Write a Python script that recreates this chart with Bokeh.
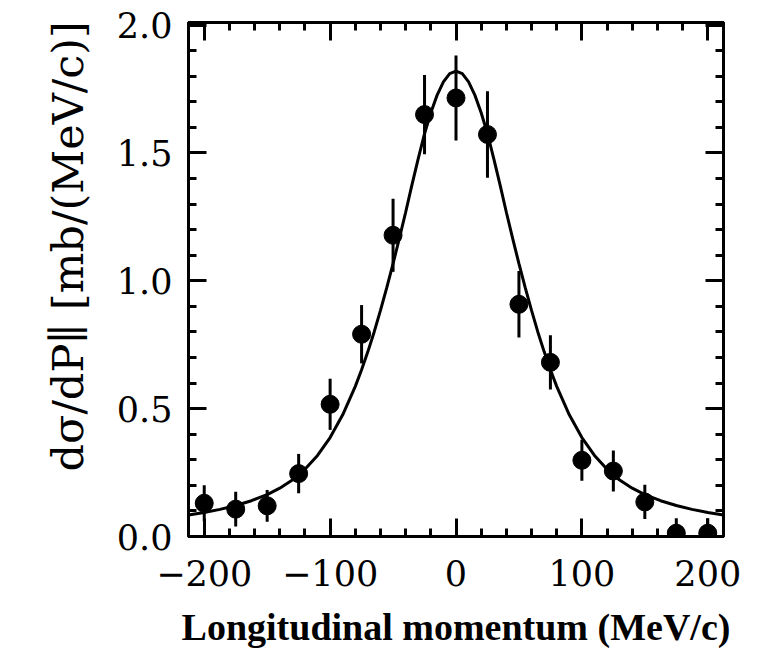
from bokeh.plotting import figure
from bokeh.models import FixedTicker, LinearAxis, Range1d, Title, ColumnDataSource
from bokeh.embed import file_html
from bokeh.resources import INLINE

# ---- data ----
momentum = [-200, -175, -150, -125, -100, -75, -50, -25, 0, 25, 50, 75, 100, 125, 150, 175, 200]
xsec = [0.130, 0.107, 0.120, 0.246, 0.517, 0.791, 1.178, 1.650, 1.715, 1.572, 0.908, 0.681,
        0.298, 0.256, 0.135, 0.013, 0.013]
xsec_err = [0.070, 0.068, 0.062, 0.077, 0.100, 0.114, 0.143, 0.155, 0.166, 0.169, 0.130, 0.106,
            0.080, 0.080, 0.067, 0.058, 0.058]

fit_x = [-212.5, -200, -187.5, -175, -162.5, -150, -140, -130, -120, -110, -100, -90, -80, -75,
         -70, -65, -60, -55, -50, -45, -40, -35, -30, -25, -20, -15, -10, -5, 0,
         5, 10, 15, 20, 25, 30, 35, 40, 45, 50, 55, 60, 65, 70, 75, 80, 90, 100, 110, 120,
         130, 140, 150, 162.5, 175, 187.5, 200, 212.5]
fit_y = [0.084, 0.094, 0.106, 0.121, 0.140, 0.164, 0.189, 0.221, 0.263, 0.317, 0.387, 0.476,
         0.587, 0.652, 0.723, 0.800, 0.884, 0.973, 1.067, 1.166, 1.268, 1.375, 1.478, 1.575,
         1.657, 1.726, 1.778, 1.810, 1.820,
         1.810, 1.778, 1.726, 1.657, 1.575, 1.478, 1.375, 1.268, 1.166, 1.067, 0.973, 0.884,
         0.800, 0.723, 0.652, 0.587, 0.476, 0.387, 0.317, 0.263, 0.221, 0.189, 0.164, 0.140,
         0.121, 0.106, 0.094, 0.084]

x_major = [-200, -100, 0, 100, 200]
x_labels = ["\u2212200", "\u2212100", "0", "100", "200"]
x_minor = [-200, -180, -160, -140, -120, -100, -80, -60, -40, -20, 0, 20, 40, 60, 80, 100,
           120, 140, 160, 180, 200]
y_major = [0.0, 0.5, 1.0, 1.5, 2.0]
y_labels = ["0.0", "0.5", "1.0", "1.5", "2.0"]
y_minor = [0.0, 0.1, 0.2, 0.3, 0.4, 0.5, 0.6, 0.7, 0.8, 0.9, 1.0, 1.1, 1.2, 1.3, 1.4, 1.5,
           1.6, 1.7, 1.8, 1.9, 2.0]

x_title = "Longitudinal momentum (MeV/c)"
y_title = "d\u03c3/dP\u2225 [mb/(MeV/c)]"

# ---- figure ----
p = figure(width=770, height=655, x_range=Range1d(-212.5, 212.5), y_range=Range1d(0, 2.01),
           output_backend="svg", toolbar_location=None,
           min_border_left=188, min_border_right=47, min_border_top=22, min_border_bottom=119)
p.background_fill_color = "white"
p.border_fill_color = "white"
p.outline_line_color = "black"
p.outline_line_width = 3
p.xgrid.grid_line_color = None
p.ygrid.grid_line_color = None

xt = FixedTicker(ticks=x_major, minor_ticks=x_minor)
yt = FixedTicker(ticks=y_major, minor_ticks=y_minor)


def style_axis(ax, ticker, labels, ticks):
    ax.ticker = ticker
    ax.axis_line_width = 3
    ax.axis_line_color = "black"
    ax.major_tick_in = 18
    ax.major_tick_out = 0
    ax.minor_tick_in = 8
    ax.minor_tick_out = 0
    ax.major_tick_line_width = 3
    ax.minor_tick_line_width = 3
    ax.major_tick_line_color = "black"
    ax.minor_tick_line_color = "black"
    ax.major_label_overrides = {t: l for t, l in zip(ticks, labels)}
    ax.major_label_text_font = "DejaVu Serif"
    ax.major_label_text_font_size = "35px"
    ax.major_label_text_color = "black"


style_axis(p.xaxis[0], xt, x_labels, x_major)
style_axis(p.yaxis[0], yt, y_labels, y_major)
p.xaxis[0].major_label_standoff = 23
p.yaxis[0].major_label_standoff = 16
p.xaxis[0].axis_label = x_title
p.xaxis[0].axis_label_text_font = "Liberation Serif"
p.xaxis[0].axis_label_text_font_style = "bold"
p.xaxis[0].axis_label_text_font_size = "38px"
p.xaxis[0].axis_label_text_color = "black"
p.xaxis[0].axis_label_standoff = 17

top_ax = LinearAxis()
right_ax = LinearAxis()
style_axis(top_ax, xt, x_labels, x_major)
style_axis(right_ax, yt, y_labels, y_major)
top_ax.major_label_text_color = None
right_ax.major_label_text_color = None
p.add_layout(top_ax, "above")
p.add_layout(right_ax, "right")

# y title as a left-side vertical title, starting a little above the frame bottom
p.add_layout(Title(text=y_title, align="left", offset=65, vertical_align="top",
                   standoff=37, text_font="DejaVu Serif", text_font_style="normal",
                   text_font_size="43px", text_color="black"), "left")

fit_src = ColumnDataSource(dict(x=fit_x, y=fit_y))
p.line("x", "y", source=fit_src, line_color="black", line_width=3)

pts = ColumnDataSource(dict(
    x=momentum, y=xsec,
    lo=[v - e for v, e in zip(xsec, xsec_err)],
    hi=[v + e for v, e in zip(xsec, xsec_err)],
))
p.segment(x0="x", y0="lo", x1="x", y1="hi", source=pts, line_color="black", line_width=3)
p.scatter("x", "y", source=pts, size=18, fill_color="black", line_color="black")

open("out.html", "w").write(file_html(p, INLINE))
